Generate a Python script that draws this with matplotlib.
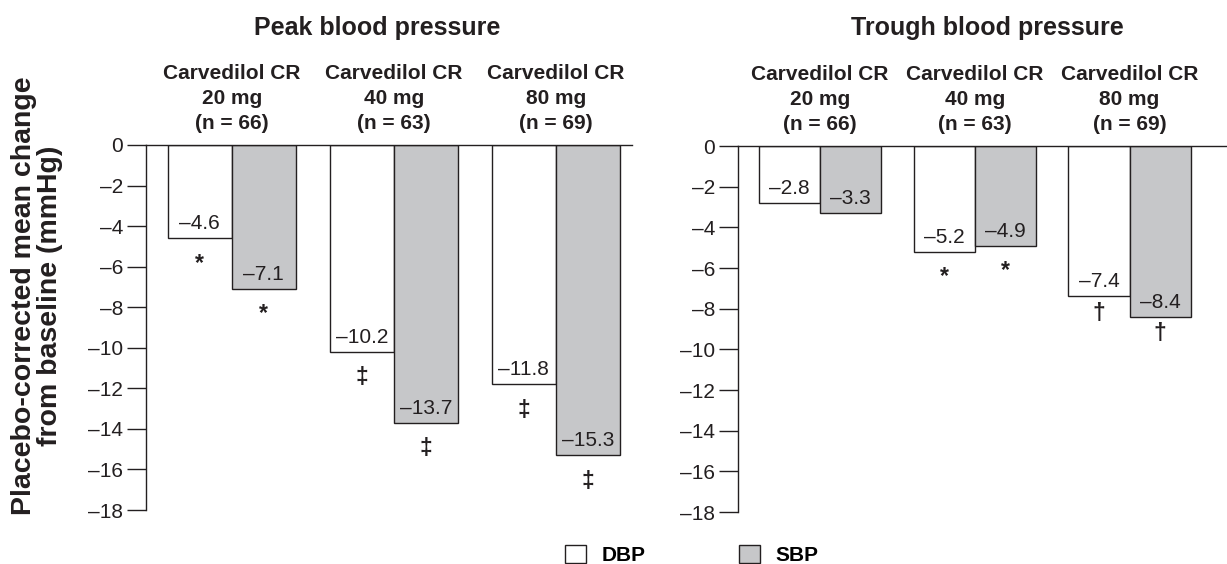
import matplotlib

matplotlib.use("Agg")
import matplotlib.pyplot as plt
import numpy as np
from matplotlib.patches import Patch
from matplotlib.ticker import FixedLocator, FuncFormatter

plt.rcParams["font.family"] = ["Liberation Sans", "DejaVu Sans"]

INK = "#231F20"
GREY = "#C6C7C9"

# data
dose_labels = ["Carvedilol CR\n20 mg\n(n = 66)", "Carvedilol CR\n40 mg\n(n = 63)", "Carvedilol CR\n80 mg\n(n = 69)"]
peak_dbp = [-4.6, -10.2, -11.8]
peak_sbp = [-7.1, -13.7, -15.3]
peak_dbp_sig = ["*", "\u2021", "\u2021"]
peak_sbp_sig = ["*", "\u2021", "\u2021"]
trough_dbp = [-2.8, -5.2, -7.4]
trough_sbp = [-3.3, -4.9, -8.4]
trough_dbp_sig = ["", "*", "\u2020"]
trough_sbp_sig = ["", "*", "\u2020"]
y_ticks = list(range(0, -19, -2))

# baseline offset (pt) below bar end for each significance symbol
SIG_OFFSET = {"*": 22.5, "\u2021": 23.5, "\u2020": 17}


def dash(v):
    s = f"{abs(v):g}" if float(v).is_integer() else f"{abs(v):.1f}"
    return s if v >= 0 else "\u2013" + s


def draw_panel(ax, dbp, sbp, dbp_sig, sbp_sig, xmax):
    x = np.arange(len(dbp))
    w = 0.395
    for vals, sig, off, face in ((dbp, dbp_sig, -w / 2, "white"), (sbp, sbp_sig, w / 2, GREY)):
        bars = ax.bar(x + off, vals, w, color=face, edgecolor=INK, linewidth=1.0, zorder=2)
        for b, v, s in zip(bars, vals, sig):
            cx = b.get_x() + b.get_width() / 2
            ax.annotate(dash(v), (cx, v), xytext=(0, 6.5), textcoords="offset points",
                        ha="center", va="baseline", fontsize=15, color=INK)
            if s:
                ax.annotate(s, (cx, v), xytext=(0, -SIG_OFFSET[s]), textcoords="offset points",
                            ha="center", va="baseline", fontsize=16.5, fontweight="bold", color=INK)
    ax.set_xlim(-0.53, xmax)
    ax.set_ylim(-18, 0)
    for sp in ("right", "bottom"):
        ax.spines[sp].set_visible(False)
    for sp in ("left", "top"):
        ax.spines[sp].set_linewidth(1.0)
        ax.spines[sp].set_color(INK)
    ax.set_xticks([])
    ax.yaxis.set_major_locator(FixedLocator(y_ticks))
    ax.yaxis.set_major_formatter(FuncFormatter(lambda v, p: dash(int(round(v)))))
    ax.tick_params(axis="y", direction="out", length=13.5, width=1.0, pad=3,
                   labelsize=15, colors=INK)
    for i, lab in enumerate(dose_labels):
        ax.text(i, 1.127, lab, transform=ax.get_xaxis_transform(), ha="center", va="center",
                fontsize=15, fontweight="bold", linespacing=1.4, color=INK)


fig = plt.figure(figsize=(12.27, 5.64), dpi=100)
ax1 = fig.add_axes([146 / 1227, 1 - 510 / 564, (632 - 146) / 1227, 365 / 564])
ax2 = fig.add_axes([738 / 1227, 1 - 512 / 564, (1227 - 738) / 1227, 366 / 564])

draw_panel(ax1, peak_dbp, peak_sbp, peak_dbp_sig, peak_sbp_sig, 2.47)
draw_panel(ax2, trough_dbp, trough_sbp, trough_dbp_sig, trough_sbp_sig, 2.63)

fig.text(377 / 1227, 1 - 28 / 564, "Peak blood pressure", ha="center", va="center",
         fontsize=18, fontweight="bold", color=INK)
fig.text(987 / 1227, 1 - 28 / 564, "Trough blood pressure", ha="center", va="center",
         fontsize=18, fontweight="bold", color=INK)
fig.text(37 / 1227, 1 - 296 / 564, "Placebo-corrected mean change\nfrom baseline (mmHg)",
         rotation=90, ha="center", va="center", ma="center", fontsize=20.5,
         fontweight="bold", linespacing=1.0, color=INK)

handles = [Patch(facecolor="white", edgecolor=INK, linewidth=1.0),
           Patch(facecolor=GREY, edgecolor=INK, linewidth=1.0)]
fig.legend(handles, ["DBP", "SBP"], loc="center left", bbox_to_anchor=(565 / 1227, 1 - 555 / 564),
           ncol=2, frameon=False, prop={"weight": "bold", "size": 15},
           handlelength=1.0, handleheight=1.0, handletextpad=0.75, columnspacing=4.5,
           borderpad=0, borderaxespad=0)

fig.savefig("out.png", dpi=100, facecolor="white")
